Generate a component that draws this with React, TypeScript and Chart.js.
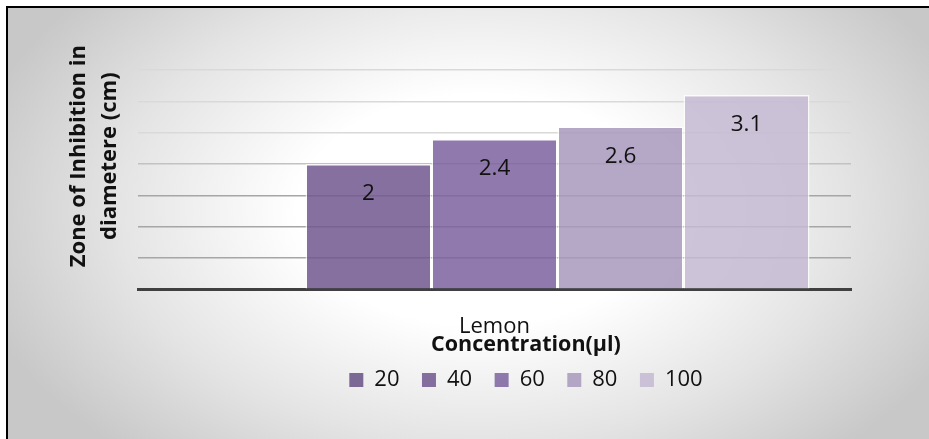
import React, { useEffect, useRef } from "react";
import { Chart, registerables } from "chart.js";

Chart.register(...registerables);

const FONT = "'Open Sans', Lato, sans-serif";

const categories = ["Lemon"];
const seriesNames = ["20", "40", "60", "80", "100"];
const values20: (number | null)[] = [null];
const values40: (number | null)[] = [2];
const values60: (number | null)[] = [2.4];
const values80: (number | null)[] = [2.6];
const values100: (number | null)[] = [3.1];
const seriesColors = [
  "rgba(103,80,132,0.85)",
  "rgba(113,87,142,0.85)",
  "rgba(125,98,159,0.85)",
  "rgba(168,153,189,0.85)",
  "rgba(196,186,210,0.85)",
];
const yTitle = ["Zone of Inhibition in", "diametere (cm)"];
const xTitle = "Concentration(µl)";

const backgroundPlugin = {
  id: "bgPlugin",
  beforeDraw(chart: any) {
    const { ctx, width, height } = chart;
    ctx.save();
    ctx.fillStyle = "#ffffff";
    ctx.fillRect(0, 0, width, height);
    const cx = 480, cy = 210, rx = 520, ry = 330;
    ctx.translate(cx, cy);
    ctx.scale(1, ry / rx);
    const g = ctx.createRadialGradient(0, 0, 0, 0, 0, rx);
    g.addColorStop(0, "#ffffff");
    g.addColorStop(0.35, "#ffffff");
    g.addColorStop(0.7, "#e4e4e4");
    g.addColorStop(1, "#c8c8c8");
    ctx.fillStyle = g;
    const k = rx / ry;
    ctx.fillRect(8 - cx, (8 - cy) * k, width - 8 + cx, (height - 8) * k + cy * k);
    ctx.restore();
    ctx.save();
    ctx.strokeStyle = "#000000";
    ctx.lineWidth = 2;
    ctx.beginPath();
    ctx.moveTo(7, height);
    ctx.lineTo(7, 7);
    ctx.lineTo(width, 7);
    ctx.stroke();
    ctx.restore();
  },
};

const dataLabelPlugin = {
  id: "dataLabels",
  afterDatasetsDraw(chart: any) {
    const ctx = chart.ctx;
    ctx.save();
    ctx.font = `22.5px ${FONT}`;
    ctx.fillStyle = "#111111";
    ctx.textAlign = "center";
    ctx.textBaseline = "middle";
    chart.data.datasets.forEach((ds: any, i: number) => {
      const meta = chart.getDatasetMeta(i);
      meta.data.forEach((el: any, j: number) => {
        const v = ds.data[j];
        if (v === null || v === undefined) return;
        ctx.fillText(String(v), el.x, el.y + 30);
      });
    });
    ctx.restore();
  },
};

const legendShiftPlugin = {
  id: "legendShift",
  afterLayout(chart: any) {
    const l = chart.legend;
    if (l) {
      l.left += 31.5;
      l.right += 31.5;
    }
  },
};

export default function App() {
  const ref = useRef<HTMLCanvasElement | null>(null);
  useEffect(() => {
    document.body.style.margin = "0";
    const canvas = ref.current;
    if (!canvas) return;
    const allValues = [values20, values40, values60, values80, values100];
    const chart = new Chart(canvas, {
      type: "bar",
      data: {
        labels: categories,
        datasets: seriesNames.map((name, i) => ({
          label: name,
          data: allValues[i],
          backgroundColor: seriesColors[i],
          borderColor: "rgba(255,255,255,0.75)",
          borderWidth: 1.5,
          categoryPercentage: 0.8836,
          barPercentage: 1,
        })),
      },
      options: {
        responsive: false,
        animation: false,
        devicePixelRatio: 1,
        layout: { padding: { top: 23, right: 78, bottom: 38, left: 0 } },
        scales: {
          x: {
            grid: { display: false },
            border: { display: true, color: "#404040", width: 3 },
            ticks: { font: { family: FONT, size: 22 }, color: "#111111", padding: 16 },
            afterFit(scale: any) {
              scale.height = 45.2;
            },
          },
          y: {
            min: 0,
            max: 4.25,
            ticks: { display: false, stepSize: 0.5 },
            border: { display: false },
            grid: {
              drawTicks: false,
              lineWidth: 1.5,
              color: (c: any) => {
                const v = c.tick ? c.tick.value : 0;
                if (v === 0 || v > 3.5001) return "rgba(0,0,0,0)";
                if (v <= 1.5) return "#a6a6a6";
                if (v <= 2) return "#c2c2c2";
                return "#d9d9d9";
              },
            },
            title: {
              display: true,
              text: yTitle,
              font: { family: FONT, size: 22, weight: "bold", lineHeight: 1.41 },
              color: "#111111",
              padding: { top: 63.5, bottom: 0 },
            },
            afterFit(scale: any) {
              scale.width = 138;
            },
          },
        },
        plugins: {
          legend: {
            position: "bottom",
            fullSize: false,
            labels: {
              font: { family: FONT, size: 22 },
              color: "#111111",
              boxWidth: 14,
              boxHeight: 14,
              padding: 22.5,
              generateLabels: (ch: any) =>
                (Chart as any).defaults.plugins.legend.labels
                  .generateLabels(ch)
                  .map((l: any) => ({ ...l, lineWidth: 0 })),
            },
            title: {
              display: true,
              text: xTitle,
              color: "#111111",
              font: { family: FONT, size: 21.5, weight: "bold" },
              padding: { top: -0.75, bottom: -13.05 },
            },
          },
          tooltip: { enabled: false },
        },
      },
      plugins: [backgroundPlugin, dataLabelPlugin, legendShiftPlugin],
    } as any);
    return () => chart.destroy();
  }, []);
  return (
    <div style={{ width: 929, height: 439 }}>
      <canvas ref={ref} width={929} height={439} style={{ display: "block" }} />
    </div>
  );
}
